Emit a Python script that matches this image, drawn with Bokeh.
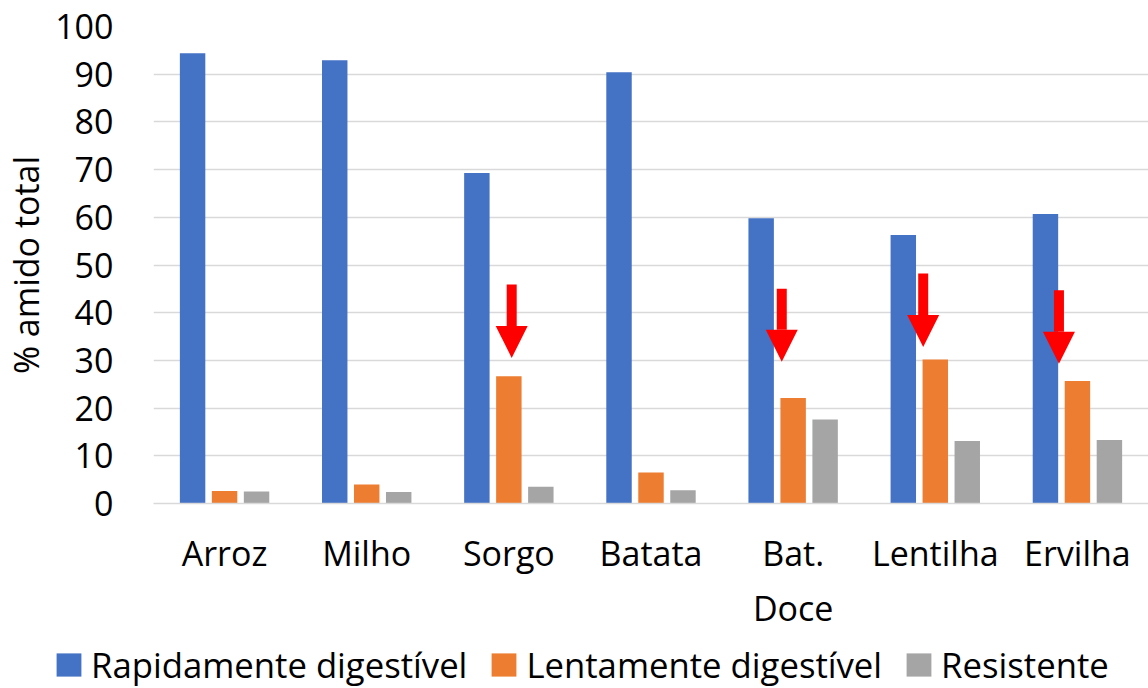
from bokeh.plotting import figure
from bokeh.models import (ColumnDataSource, FixedTicker, Range1d, Legend, LegendItem,
                          Arrow, NormalHead)
from bokeh.transform import dodge
from bokeh.embed import file_html
from bokeh.resources import INLINE

# ---- data ----
categories = ["Arroz", "Milho", "Sorgo", "Batata", "Bat.\nDoce", "Lentilha", "Ervilha"]
rapidamente = [94.4, 92.9, 69.3, 90.4, 59.8, 56.3, 60.7]
lentamente = [2.6, 4.0, 26.7, 6.5, 22.1, 30.2, 25.7]
resistente = [2.5, 2.4, 3.5, 2.8, 17.6, 13.1, 13.3]
series_names = ["Rapidamente digestível", "Lentamente digestível", "Resistente"]
y_ticks = [0, 10, 20, 30, 40, 50, 60, 70, 80, 90, 100]

# highlighted categories (red arrows): index, arrow top, arrow tip, x shift
arrow_cats = [2, 4, 5, 6]
arrow_top = [45.9, 45.0, 48.2, 44.7]
arrow_tip = [30.5, 29.7, 32.8, 29.3]
arrow_shift = [0.02, -0.08, -0.085, -0.13]

colors = ["#4472C4", "#ED7D31", "#A5A5A5"]
FONT = "Open Sans"
FS = "34px"

xs = list(range(len(categories)))
src = ColumnDataSource(dict(x=xs, r=rapidamente, l=lentamente, s=resistente))

p = figure(width=1148, height=638, output_backend="svg", toolbar_location=None,
           x_range=Range1d(-0.5, 6.5), y_range=Range1d(0, 100),
           min_border_left=151, min_border_right=0, min_border_top=26,
           min_border_bottom=135)
p.outline_line_color = None
p.background_fill_color = "white"
p.border_fill_color = "white"

bw = 0.179
step = 0.225
r1 = p.vbar(x=dodge("x", -step, range=p.x_range), top="r", width=bw, source=src,
            fill_color=colors[0], line_color=None)
r2 = p.vbar(x=dodge("x", 0, range=p.x_range), top="l", width=bw, source=src,
            fill_color=colors[1], line_color=None)
r3 = p.vbar(x=dodge("x", step, range=p.x_range), top="s", width=bw, source=src,
            fill_color=colors[2], line_color=None)

for i, ci in enumerate(arrow_cats):
    xa = ci + arrow_shift[i]
    p.add_layout(Arrow(end=NormalHead(size=32, fill_color="#FF0000", line_color="#FF0000",
                                      line_width=0),
                       x_start=xa, y_start=arrow_top[i], x_end=xa, y_end=arrow_tip[i],
                       line_color="#FF0000", line_width=10))

# axes
p.xaxis.ticker = FixedTicker(ticks=xs)
p.xaxis.major_label_overrides = {i: c for i, c in enumerate(categories)}
p.xaxis.major_tick_line_color = None
p.xaxis.minor_tick_line_color = None
p.xaxis.major_tick_out = 0
p.xaxis.major_label_standoff = 26
p.xaxis.axis_line_color = "#D9D9D9"
p.xaxis.axis_line_width = 1.5
p.xaxis.major_label_text_font = FONT
p.xaxis.major_label_text_font_size = FS
p.xaxis.major_label_text_color = "#000000"

p.yaxis.ticker = FixedTicker(ticks=y_ticks)
p.yaxis.axis_line_color = None
p.yaxis.major_tick_line_color = None
p.yaxis.minor_tick_line_color = None
p.yaxis.major_tick_out = 0
p.yaxis.major_label_standoff = 40
p.yaxis.major_label_text_font = FONT
p.yaxis.major_label_text_font_size = FS
p.yaxis.major_label_text_color = "#000000"
p.yaxis.axis_label = "% amido total"
p.yaxis.axis_label_text_font = FONT
p.yaxis.axis_label_text_font_size = FS
p.yaxis.axis_label_text_font_style = "normal"
p.yaxis.axis_label_text_color = "#000000"
p.yaxis.axis_label_standoff = 3

p.xgrid.grid_line_color = None
p.ygrid.ticker = FixedTicker(ticks=y_ticks)
p.ygrid.grid_line_color = "#D9D9D9"
p.ygrid.grid_line_width = 1.5

# legend in its own strip below the chart (legend-only figure, zero-height swatch bars)
pl = figure(width=1148, height=50, output_backend="svg", toolbar_location=None,
            x_range=Range1d(0, 1), y_range=Range1d(0, 1),
            x_axis_location=None, y_axis_location=None,
            min_border=0, min_border_left=0, min_border_right=0,
            min_border_top=0, min_border_bottom=0)
pl.outline_line_color = None
pl.border_fill_color = "white"
pl.xgrid.visible = False
pl.ygrid.visible = False
lr = [pl.vbar(x=[0.5], top=[0], width=0.01, fill_color=c, line_color=None) for c in colors]

legend = Legend(items=[LegendItem(label=series_names[k], renderers=[lr[k]]) for k in range(3)],
                orientation="horizontal", location=(53, 0),
                glyph_width=31, glyph_height=29, label_standoff=7, spacing=21,
                padding=0, margin=0, border_line_color=None,
                background_fill_alpha=0,
                label_text_font=FONT, label_text_font_size="34.7px",
                label_text_color="#000000")
pl.add_layout(legend, "center")

open("out.html", "w").write(file_html([p, pl], INLINE))
